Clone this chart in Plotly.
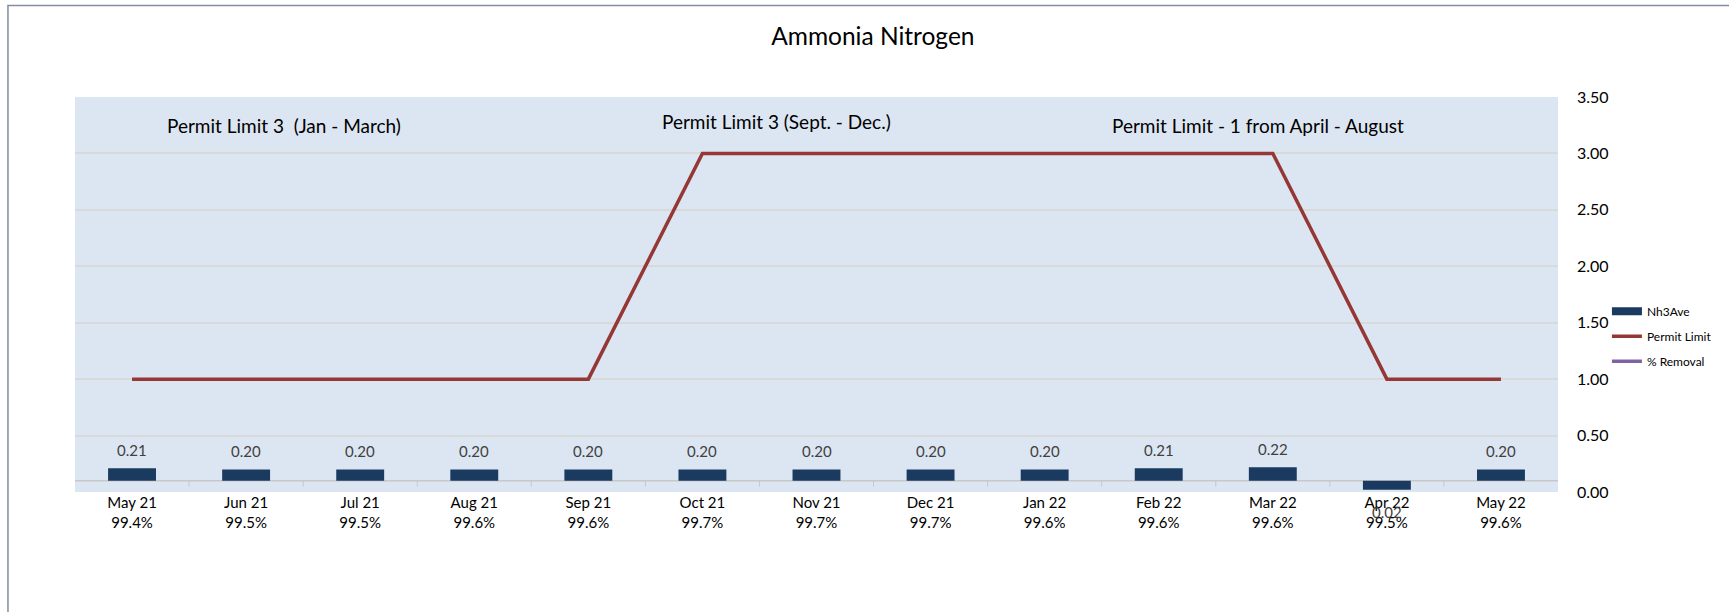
import plotly.graph_objects as go

categories = ["May 21", "Jun 21", "Jul 21", "Aug 21", "Sep 21", "Oct 21", "Nov 21",
              "Dec 21", "Jan 22", "Feb 22", "Mar 22", "Apr 22", "May 22"]
nh3_ave = [0.21, 0.20, 0.20, 0.20, 0.20, 0.20, 0.20, 0.20, 0.20, 0.21, 0.22, 0.02, 0.20]
permit_limit = [1, 1, 1, 1, 1, 3, 3, 3, 3, 3, 3, 1, 1]
pct_removal = [99.4, 99.5, 99.5, 99.6, 99.6, 99.7, 99.7, 99.7, 99.6, 99.6, 99.6, 99.5, 99.6]
y_ticks = [0, 0.5, 1.0, 1.5, 2.0, 2.5, 3.0, 3.5]
axis_cross = 0.1  # horizontal axis crosses the value axis here (bars grow from it)

FONT = "Lato"
NAVY = "#1B3A60"
RED = "#953735"
PURPLE = "#8064A2"

fig = go.Figure()

# Bars start at the axis crossing value
fig.add_trace(go.Bar(
    x=categories,
    y=[v - axis_cross for v in nh3_ave],
    base=axis_cross,
    width=0.42,
    marker=dict(color=NAVY, line=dict(width=0)),
    name="Nh3Ave",
    showlegend=False,
))

fig.add_trace(go.Scatter(
    x=categories, y=permit_limit, mode="lines",
    line=dict(color=RED, width=3.5), name="Permit Limit", showlegend=False,
))

fig.add_trace(go.Scatter(
    x=categories, y=pct_removal, mode="lines",
    line=dict(color=PURPLE, width=3.5), name="% Removal", showlegend=False,
))

# legend entries
fig.add_trace(go.Scatter(x=[None], y=[None], mode="lines", name="Nh3Ave",
                         line=dict(color=NAVY, width=8), legendgroup="a"))
fig.add_trace(go.Scatter(x=[None], y=[None], mode="lines", name="Permit Limit",
                         line=dict(color=RED, width=3.5), legendgroup="b"))
fig.add_trace(go.Scatter(x=[None], y=[None], mode="lines", name="% Removal",
                         line=dict(color=PURPLE, width=3.5), legendgroup="c"))

annotations = []
for c, v in zip(categories, nh3_ave):
    above = v >= axis_cross
    annotations.append(dict(
        x=c, y=v, xref="x", yref="y", text=f"{v:.2f}", showarrow=False,
        yanchor="bottom" if above else "top", yshift=7 if above else -11,
        font=dict(family=FONT, size=15, color="#404040"),
    ))

for txt, xp, yp in [("Permit Limit 3  (Jan - March)", 0.141, 0.929),
                    ("Permit Limit 3 (Sept. - Dec.)", 0.473, 0.939),
                    ("Permit Limit - 1 from April - August", 0.798, 0.927)]:
    annotations.append(dict(x=xp, y=yp, xref="paper", yref="paper", text=txt,
                            showarrow=False, xanchor="center", yanchor="middle",
                            font=dict(family=FONT, size=19, color="black")))

shapes = [
    # horizontal category axis line
    dict(type="line", xref="paper", yref="y", x0=0, x1=1, y0=axis_cross, y1=axis_cross,
         line=dict(color="#C8C8C8", width=1.5), layer="below"),
    # outer chart border
    dict(type="rect", xref="paper", yref="paper", x0=-0.0452, x1=1.3, y0=-0.5, y1=1.2316,
         line=dict(color="#7F8EA3", width=1.5)),
]
for i in range(len(categories) - 1):
    shapes.append(dict(type="line", xref="x", yref="y", ysizemode="pixel",
                       yanchor=axis_cross, x0=i + 0.5, x1=i + 0.5, y0=0, y1=-6,
                       line=dict(color="#C8C8C8", width=1), layer="below"))

fig.update_layout(
    width=1729, height=612,
    margin=dict(l=75, r=171, t=97, b=120),
    paper_bgcolor="white",
    plot_bgcolor="#DCE6F2",
    font=dict(family=FONT, color="black"),
    title=dict(text="Ammonia Nitrogen", x=0.538, xref="paper", xanchor="center",
               y=1 - 36 / 612, yref="container", yanchor="middle",
               font=dict(family=FONT, size=24.5, color="black")),
    xaxis=dict(
        range=[-0.5, len(categories) - 0.5],
        tickmode="array", tickvals=categories,
        ticktext=[f"{c}<br>{r:.1f}%" for c, r in zip(categories, pct_removal)],
        tickfont=dict(family=FONT, size=15, color="black"),
        showgrid=False, zeroline=False, showline=False, ticks="",
    ),
    yaxis=dict(
        side="right", range=[0, 3.5], tickmode="array", tickvals=y_ticks,
        tickformat=".2f", tickfont=dict(family=FONT, size=16, color="black"),
        showgrid=True, gridcolor="#D9D9D9", gridwidth=1.5, zeroline=False,
        showline=False, ticks="", ticklabelstandoff=18,
    ),
    legend=dict(x=1.033, y=0.494, xanchor="left", yanchor="top",
                font=dict(family=FONT, size=12, color="black"),
                bgcolor="rgba(0,0,0,0)", tracegroupgap=6, itemwidth=30),
    annotations=annotations,
    shapes=shapes,
    bargap=0.58,
)

fig.write_html("out.html", config={"displayModeBar": False},
               post_script="document.body.style.margin='0';")
